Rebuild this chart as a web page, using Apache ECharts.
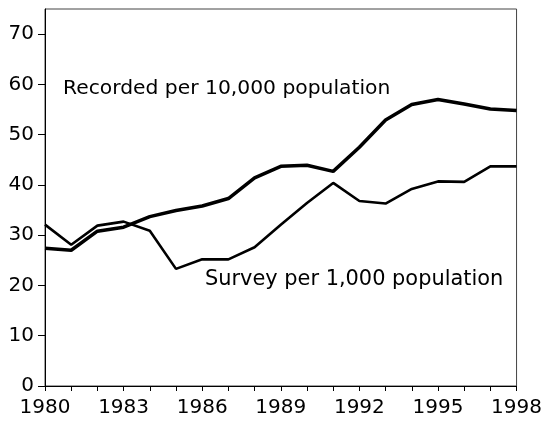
<!DOCTYPE html>
<html>
<head>
<meta charset="utf-8">
<script src="https://cdn.jsdelivr.net/npm/echarts@6/dist/echarts.min.js"></script>
<style>html,body{margin:0;padding:0;background:#fff}#c{width:545px;height:421px}</style>
</head>
<body>
<div id="c"></div>
<script>
var years = ['1980','1981','1982','1983','1984','1985','1986','1987','1988','1989','1990','1991','1992','1993','1994','1995','1996','1997','1998'];
var recorded = [27.4,27.0,30.8,31.6,33.7,34.9,35.8,37.3,41.4,43.7,43.9,42.7,47.5,52.9,56.0,57.0,56.1,55.1,54.8];
var survey = [32.1,28.1,31.9,32.7,30.9,23.3,25.2,25.2,27.6,32.1,36.4,40.4,36.8,36.3,39.2,40.7,40.6,43.7,43.7];
var yTicks = [0,10,20,30,40,50,60,70];
var recordedLabel = 'Recorded per 10,000 population';
var surveyLabel = 'Survey per 1,000 population';

var FONT = '"DejaVu Sans", "Liberation Sans", Arial, sans-serif';
var chart = echarts.init(document.getElementById('c'), null, {renderer: 'canvas'});
chart.setOption({
  animation: false,
  backgroundColor: '#fff',
  grid: {left: 45, right: 26, top: 9, bottom: 35, show: true, borderColor: '#444', borderWidth: 1, containLabel: false},
  xAxis: {
    type: 'category', data: years, boundaryGap: false,
    axisLine: {lineStyle: {color: '#000', width: 1}},
    axisTick: {interval: 0, length: 5, lineStyle: {color: '#000'}},
    axisLabel: {interval: 2, margin: 12, color: '#000', fontSize: 20, fontFamily: FONT},
    splitLine: {show: false}
  },
  yAxis: {
    type: 'value', min: 0, max: 75, interval: 10,
    axisLine: {show: true, lineStyle: {color: '#000', width: 1}},
    axisTick: {show: true, length: 7, customValues: yTicks, lineStyle: {color: '#000'}},
    axisLabel: {customValues: yTicks, margin: 11, color: '#000', fontSize: 20, fontFamily: FONT},
    splitLine: {show: false}
  },
  series: [
    {name: 'Survey', type: 'line', data: survey, symbol: 'none', lineStyle: {color: '#000', width: 2.6}, z: 2},
    {name: 'Recorded', type: 'line', data: recorded, symbol: 'none', lineStyle: {color: '#000', width: 3.5}, z: 3}
  ],
  graphic: [
    {type: 'text', left: 63, top: 79, style: {text: recordedLabel, fontSize: 20.3, fontFamily: FONT, fill: '#000'}},
    {type: 'text', left: 205, top: 269, style: {text: surveyLabel, fontSize: 20.9, fontFamily: FONT, fill: '#000'}}
  ]
});
</script>
</body>
</html>
